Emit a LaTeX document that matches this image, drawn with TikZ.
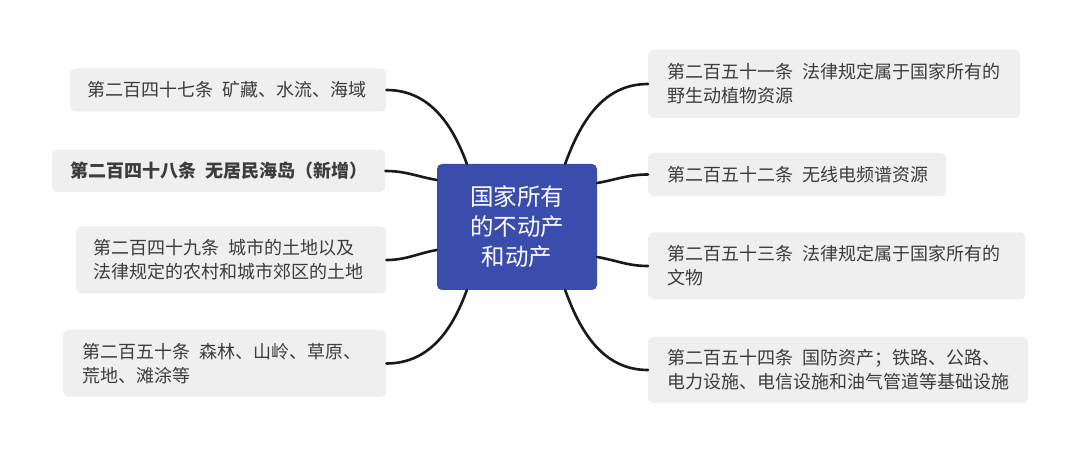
\documentclass[tikz,border=0pt]{standalone}
\usepackage{fontspec}
\setmainfont{Noto Sans CJK SC}
\definecolor{boxfill}{RGB}{239,239,239}
\definecolor{txt}{RGB}{60,60,60}
\definecolor{hub}{RGB}{58,76,172}
\newcommand{\gapsp}{\nobreak\hspace{0.5em}\nobreak}
\begin{document}
\begin{tikzpicture}[x=1pt,y=-1pt,
  leaf/.style={fill=boxfill,rounded corners=5pt,anchor=west,align=left,
    text=txt,font=\fontsize{18}{24}\selectfont,inner ysep=0pt},
  link/.style={line width=2.6pt,draw=black!90,line cap=round}]
\useasboundingbox (0,0) rectangle (1080,454);
\fill[white] (0,0) rectangle (1080,454);
\node[fill=hub,rounded corners=5pt,minimum width=160pt,minimum height=126pt,
  text=white,align=center,font=\fontsize{23.5}{30}\selectfont,inner sep=0pt] (C) at (517,227)
  {国家所有\\的不动产\\和动产};
\node[leaf,minimum height=43pt,inner xsep=17pt,text width=282pt] (L1) at (70,90)
  {第二百四十七条\gapsp 矿藏、水流、海域};
\node[leaf,minimum height=42pt,inner xsep=18pt,text width=297pt,font=\fontsize{18}{24}\selectfont\bfseries] (L2) at (52,171)
  {第二百四十八条\gapsp 无居民海岛（新增）};
\node[leaf,minimum height=67pt,inner xsep=17pt,text width=276pt] (L3) at (76,260)
  {第二百四十九条\gapsp 城市的土地以及\\法律规定的农村和城市郊区的土地};
\node[leaf,minimum height=67pt,inner xsep=19pt,text width=285pt] (L4) at (63,363.5)
  {第二百五十条\gapsp 森林、山岭、草原、\\荒地、滩涂等};
\node[leaf,minimum height=68pt,inner xsep=19pt,text width=334pt] (R1) at (648,84)
  {第二百五十一条\gapsp 法律规定属于国家所有的\\野生动植物资源};
\node[leaf,minimum height=43pt,inner xsep=19pt,text width=260pt] (R2) at (648,174.5)
  {第二百五十二条\gapsp 无线电频谱资源};
\node[leaf,minimum height=67pt,inner xsep=19pt,text width=339pt] (R3) at (648,266)
  {第二百五十三条\gapsp 法律规定属于国家所有的\\文物};
\node[leaf,minimum height=66pt,inner xsep=19pt,text width=342pt] (R4) at (648,370)
  {第二百五十四条\gapsp 国防资产；铁路、公路、\\电力设施、电信设施和油气管道等基础设施};
\draw[link] (L1.east) to[out=0,in=110] ([xshift=30pt]C.north west);
\draw[link] (L2.east) to[out=0,in=170] ([yshift=47pt]C.west);
\draw[link] (L3.east) to[out=0,in=190] ([yshift=-23pt]C.west);
\draw[link] (L4.east) to[out=0,in=-110] ([xshift=30pt]C.south west);
\draw[link] (R1.west) to[out=180,in=70] ([xshift=-32pt]C.north east);
\draw[link] (R2.west) to[out=180,in=10] ([yshift=44pt]C.east);
\draw[link] (R3.west) to[out=180,in=-10] ([yshift=-30pt]C.east);
\draw[link] (R4.west) to[out=180,in=-70] ([xshift=-32pt]C.south east);
\end{tikzpicture}
\end{document}
